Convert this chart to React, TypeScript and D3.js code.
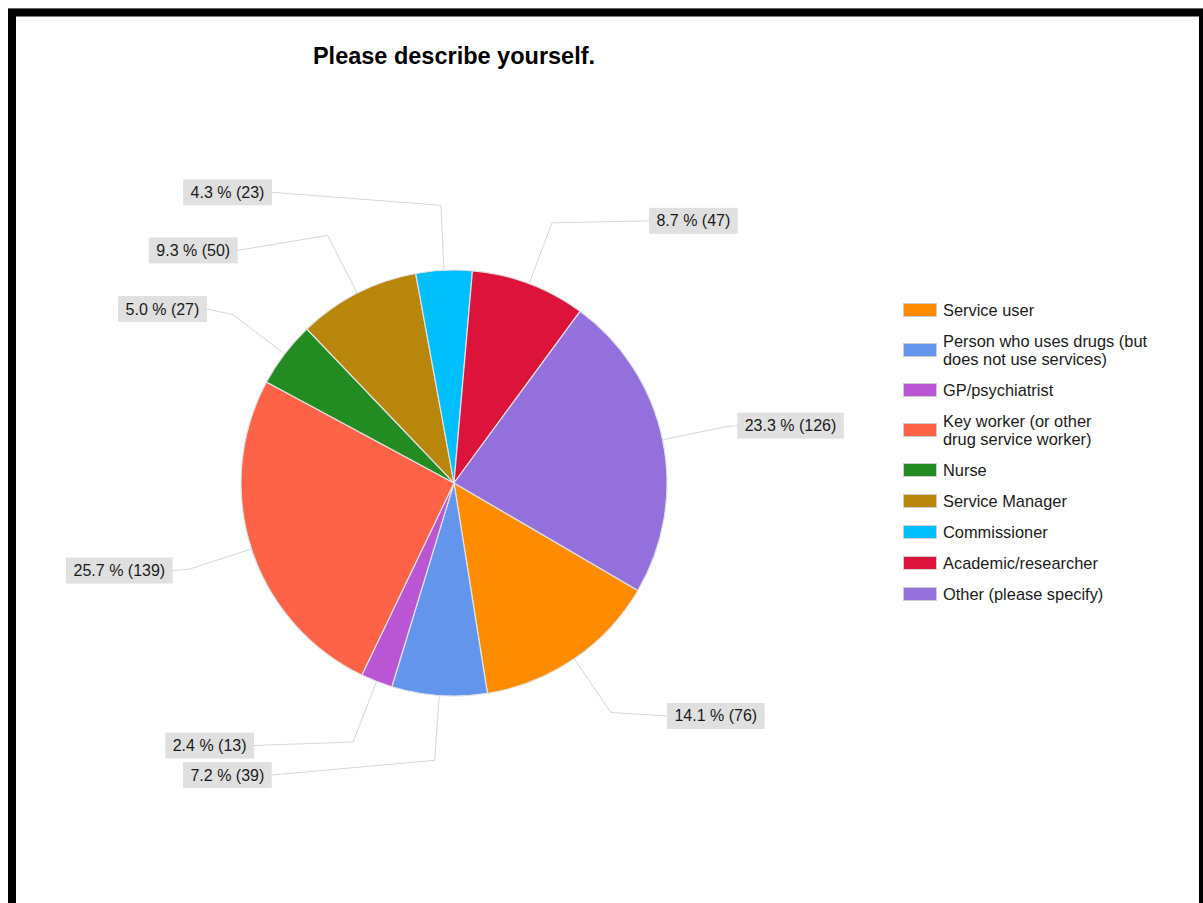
import React, { useEffect, useRef } from 'react';
import * as d3 from 'd3';

// ---- data ----
const categories: string[] = [
  'Service user',
  'Person who uses drugs (but does not use services)',
  'GP/psychiatrist',
  'Key worker (or other drug service worker)',
  'Nurse',
  'Service Manager',
  'Commissioner',
  'Academic/researcher',
  'Other (please specify)',
];
const legendLines: string[][] = [
  ['Service user'],
  ['Person who uses drugs (but', 'does not use services)'],
  ['GP/psychiatrist'],
  ['Key worker (or other', 'drug service worker)'],
  ['Nurse'],
  ['Service Manager'],
  ['Commissioner'],
  ['Academic/researcher'],
  ['Other (please specify)'],
];
const counts: number[] = [76, 39, 13, 139, 27, 50, 23, 47, 126];
const colors: string[] = [
  '#FF8C00', '#6495ED', '#BA55D3', '#FF6347', '#228B22',
  '#B8860B', '#00BFFF', '#DC143C', '#9370DB',
];
const title = 'Please describe yourself.';

// ---- layout (label placement offsets from the leader elbow) ----
const labelDx: number[] = [56, -163, -99, -17, -26, -90, -169, 97, 11];
const labelDy: number[] = [3.5, 14.7, 3.5, 1.5, -5.5, 15, -13, -2, -1];

const W = 1203;
const H = 903;
const CX = 454;
const CY = 483;
const R = 213;
const R_ELBOW = 278;
const START = (120.3 * Math.PI) / 180;
const FONT = "'Liberation Sans', Arial, sans-serif";

export default function App() {
  const ref = useRef<SVGSVGElement | null>(null);

  useEffect(() => {
    const svg = d3.select(ref.current);
    svg.selectAll('*').remove();

    // frame
    svg.append('rect').attr('x', 0).attr('y', 0).attr('width', W).attr('height', H).attr('fill', '#fff');
    svg.append('line').attr('x1', 8).attr('x2', W).attr('y1', 8.5).attr('y2', 8.5).attr('stroke', '#c8c8c8');
    svg.append('rect')
      .attr('x', 12).attr('y', 12.5).attr('width', 1191).attr('height', 1000)
      .attr('fill', 'none').attr('stroke', '#000').attr('stroke-width', 8);

    // title
    svg.append('text')
      .attr('x', CX).attr('y', 64)
      .attr('text-anchor', 'middle')
      .attr('font-family', FONT).attr('font-weight', 'bold').attr('font-size', 23.5)
      .attr('fill', '#000')
      .text(title);

    const total = d3.sum(counts);
    const pie = d3.pie<number>().sort(null).value((d) => d).startAngle(START).endAngle(START + 2 * Math.PI);
    const arcs = pie(counts);
    const arc = d3.arc<d3.PieArcDatum<number>>().innerRadius(0).outerRadius(R);

    const g = svg.append('g').attr('transform', `translate(${CX},${CY})`);
    g.selectAll('path.slice')
      .data(arcs)
      .join('path')
      .attr('class', 'slice')
      .attr('d', arc as any)
      .attr('fill', (_d, i) => colors[i])
      .attr('stroke', '#e2e2e2')
      .attr('stroke-width', 1.2);

    const fmt = d3.format('.1f');
    const lg = svg.append('g');
    arcs.forEach((a, i) => {
      const mid = (a.startAngle + a.endAngle) / 2;
      const [ex, ey] = d3.pointRadial(mid, R);
      const [kx, ky] = d3.pointRadial(mid, R_ELBOW);
      const p0: [number, number] = [CX + ex, CY + ey];
      const p1: [number, number] = [CX + kx, CY + ky];
      const bx = p1[0] + labelDx[i];
      const by = p1[1] + labelDy[i];
      const txt = `${fmt((counts[i] / total) * 100)} % (${counts[i]})`;

      lg.append('path')
        .attr('d', d3.line()([p0, p1, [bx, by]]) as string)
        .attr('fill', 'none')
        .attr('stroke', '#d6d6d6')
        .attr('stroke-width', 1);

      const t = lg.append('text')
        .attr('font-family', FONT).attr('font-size', 16).attr('fill', '#1a1a1a')
        .attr('y', by + 5.5)
        .text(txt);
      const tw = (t.node() as SVGTextElement).getComputedTextLength();
      const bw = tw + 15;
      const left = labelDx[i] < 0 ? bx - bw : bx;
      lg.insert('rect', () => t.node() as any)
        .attr('x', left).attr('y', by - 13).attr('width', bw).attr('height', 26)
        .attr('fill', '#e0e0e0');
      t.attr('x', left + 7.5);
    });

    // legend
    const leg = svg.append('g');
    let y = 310;
    legendLines.forEach((lines, i) => {
      const h = lines.length > 1 ? 49 : 31;
      if (i > 0) y += h / 2;
      leg.append('rect')
        .attr('x', 903.5).attr('y', y - 6.5).attr('width', 33).attr('height', 13)
        .attr('fill', colors[i]).attr('stroke', '#d0d0d0').attr('stroke-width', 1);
      const n = lines.length;
      lines.forEach((ln, j) => {
        leg.append('text')
          .attr('x', 943)
          .attr('y', y + 5.5 + (j - (n - 1) / 2) * 18)
          .attr('font-family', FONT).attr('font-size', 16.4).attr('fill', '#1a1a1a')
          .text(ln);
      });
      y += h / 2;
      if (i === 0) y = 310 + 15.5;
    });
    leg.attr('data-count', categories.length);
  }, []);

  return (
    <svg
      ref={ref}
      width={W}
      height={H}
      style={{ position: 'absolute', left: 0, top: 0, display: 'block' }}
    />
  );
}
